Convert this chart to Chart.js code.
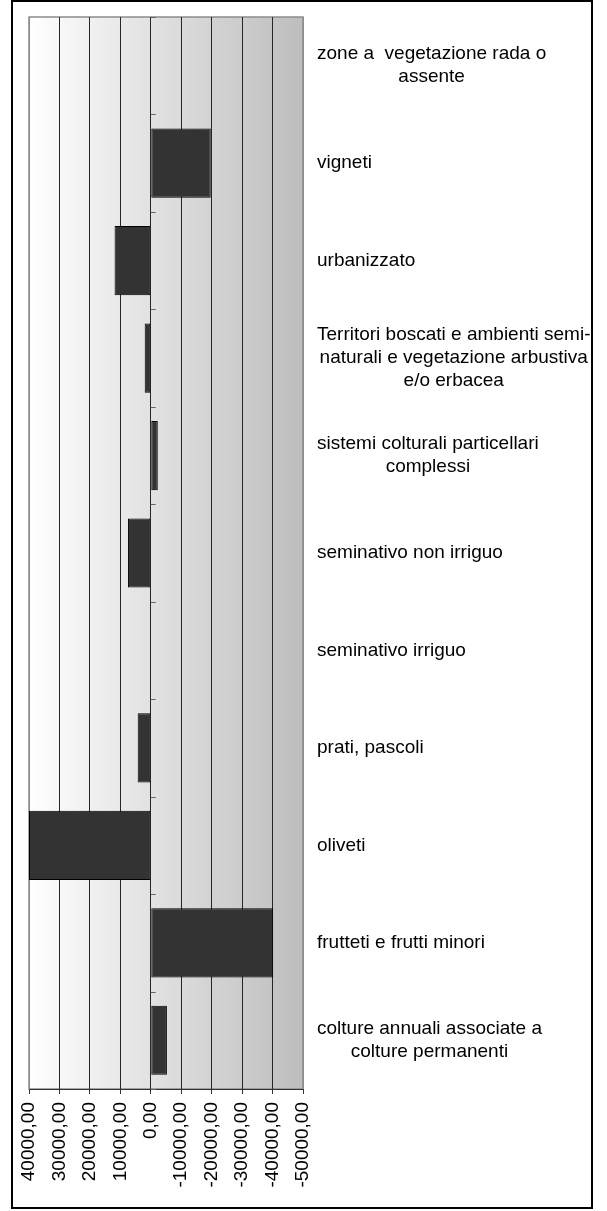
<!DOCTYPE html>
<html>
<head>
<meta charset="utf-8">
<script src="https://cdn.jsdelivr.net/npm/chart.js@4"></script>
<style>
  html, body { margin: 0; padding: 0; background: #ffffff; }
  #chart { display: block; }
</style>
</head>
<body>
<canvas id="chart" width="607" height="1211"></canvas>
<script>
// categories, top to bottom, each split into its display lines
const categories = [
    ['zone a  vegetazione rada o', 'assente'],
    ['vigneti'],
    ['urbanizzato'],
    ['Territori boscati e ambienti semi-', 'naturali e vegetazione arbustiva', 'e/o erbacea'],
    ['sistemi colturali particellari', 'complessi'],
    ['seminativo non irriguo'],
    ['seminativo irriguo'],
    ['prati, pascoli'],
    ['oliveti'],
    ['frutteti e frutti minori'],
    ['colture annuali associate a', 'colture permanenti']
];
const values = [0, -19700, 11900, 2000, -2300, 7500, 0, 4300, 40000, -40200, -5300];
const axisMin = -50000;
const axisMax = 40000;
const axisStep = 10000;

const labelFont = '19px "Liberation Sans", Arial, sans-serif';

// gradient plot background + grey plot frame
const plotBackground = {
    id: 'plotBackground',
    beforeDraw(chart) {
        const { ctx, chartArea: a } = chart;
        const g = ctx.createLinearGradient(a.left, 0, a.right, 0);
        g.addColorStop(0, '#ffffff');
        g.addColorStop(1, '#bdbdbd');
        ctx.save();
        ctx.fillStyle = g;
        ctx.fillRect(a.left, a.top, a.right - a.left, a.bottom - a.top);
        ctx.strokeStyle = '#8c8c8c';
        ctx.lineWidth = 1.5;
        ctx.strokeRect(a.left, a.top, a.right - a.left, a.bottom - a.top);
        ctx.restore();
    }
};

// category labels on the right, tick marks on the zero line, outer frame
const extras = {
    id: 'extras',
    afterDraw(chart) {
        const { ctx, chartArea: a } = chart;
        const xs = chart.scales.x;
        const ys = chart.scales.y;
        const x0 = xs.getPixelForValue(0);
        ctx.save();

        ctx.strokeStyle = '#666666';
        ctx.lineWidth = 1;
        for (let i = 0; i <= categories.length; i++) {
            const y = Math.round(ys.getPixelForValue(i - 0.5)) + 0.5;
            ctx.beginPath();
            ctx.moveTo(x0, y);
            ctx.lineTo(x0 + 5, y);
            ctx.stroke();
        }

        ctx.font = labelFont;
        ctx.fillStyle = '#000000';
        ctx.textAlign = 'center';
        ctx.textBaseline = 'middle';
        const left = a.right + 14;
        const lineH = 23;
        categories.forEach((lines, i) => {
            const cy = ys.getPixelForValue(i);
            const w = Math.max(...lines.map(l => ctx.measureText(l).width));
            const cx = left + w / 2;
            lines.forEach((line, j) => {
                ctx.fillText(line, cx, cy + (j - (lines.length - 1) / 2) * lineH);
            });
        });

        ctx.strokeStyle = '#000000';
        ctx.lineWidth = 2;
        ctx.strokeRect(12, 1, 580, 1207);
        ctx.restore();
    }
};

new Chart(document.getElementById('chart').getContext('2d'), {
    type: 'bar',
    data: {
        labels: categories.map(l => l.join(' ')),
        datasets: [{
            data: values,
            backgroundColor: '#333333',
            borderColor: '#000000',
            borderWidth: 1,
            borderSkipped: false,
            categoryPercentage: 1,
            barPercentage: 0.71
        }]
    },
    options: {
        indexAxis: 'y',
        responsive: false,
        animation: false,
        devicePixelRatio: 1,
        layout: { padding: { left: 29, top: 17, right: 304, bottom: 0 } },
        plugins: {
            legend: { display: false },
            tooltip: { enabled: false }
        },
        scales: {
            x: {
                type: 'linear',
                reverse: true,
                min: axisMin,
                max: axisMax,
                afterFit(scale) { scale.height = 122; },
                ticks: {
                    stepSize: axisStep,
                    autoSkip: false,
                    minRotation: 90,
                    maxRotation: 90,
                    padding: 8,
                    color: '#000000',
                    font: { family: '"Liberation Sans", Arial, sans-serif', size: 19 },
                    callback: v => v.toFixed(2).replace('.', ',')
                },
                grid: {
                    color: ctx => (ctx.index === 0 || ctx.index === 9) ? '#8c8c8c' : '#262626',
                    lineWidth: 1,
                    tickLength: 5,
                    tickColor: '#333333'
                },
                border: { color: '#333333', width: 1 }
            },
            y: {
                display: false,
                offset: true
            }
        }
    },
    plugins: [plotBackground, extras]
});
</script>
</body>
</html>
